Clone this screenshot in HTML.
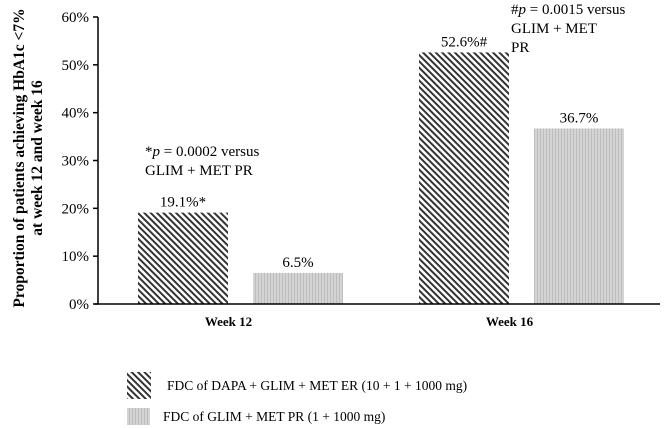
<!DOCTYPE html>
<html><head><meta charset="utf-8"><style>
body{margin:0;background:#fff}
svg{display:block;font-family:"Liberation Serif",serif}
</style></head><body>
<svg width="669" height="428" viewBox="0 0 669 428">
<defs>
<pattern id="diag" patternUnits="userSpaceOnUse" width="4.5" height="4.5" patternTransform="rotate(-45)">
<rect width="4.5" height="4.5" fill="#fff"/><rect width="2" height="4.5" fill="#333"/>
</pattern>
<pattern id="dots" patternUnits="userSpaceOnUse" width="3" height="3">
<rect width="3" height="3" fill="#d4d4d4"/><rect width="1" height="3" fill="#bdbdbd"/>
</pattern>
</defs>
<g id="plot"></g>
<text transform="translate(24,158) rotate(-90)" text-anchor="middle" font-weight="bold" font-size="15.5">Proportion of patients achieving HbA1c &lt;7%</text>
<text transform="translate(42,158) rotate(-90)" text-anchor="middle" font-weight="bold" font-size="15.5">at week 12 and week  16</text>
<text x="145" y="156" font-size="15">*<tspan font-style="italic">p</tspan> = 0.0002 versus</text>
<text x="145" y="175" font-size="15">GLIM + MET PR</text>
<text x="511" y="14" font-size="15">#<tspan font-style="italic">p</tspan>  = 0.0015 versus</text>
<text x="511" y="33" font-size="15">GLIM + MET</text>
<text x="511" y="52" font-size="15">PR</text>
<g>
<rect x="127" y="372" width="24" height="27" fill="url(#diag)"/>
<text x="167" y="390" font-size="13.5">FDC of DAPA + GLIM + MET ER (10 + 1 + 1000 mg)</text>
<rect x="127" y="408" width="23" height="17" fill="url(#dots)"/>
<text x="163" y="421" font-size="13.5">FDC of GLIM + MET PR (1 + 1000 mg)</text>
</g>
</svg>
<script>
const categories=["Week 12","Week 16"];
const seriesDapa=[19.1,52.6];
const seriesGlim=[6.5,36.7];
const dapaLabels=["19.1%*","52.6%#"];
const glimLabels=["6.5%","36.7%"];
const yTicks=[0,10,20,30,40,50,60];
const ns="http://www.w3.org/2000/svg";
const g=document.getElementById("plot");
const x0=98,x1=660,yTop=17,yBot=304;
const y=v=>yBot-(v/60)*(yBot-yTop);
const cw=(x1-x0)/categories.length;
const cx=i=>x0+2+cw*(i+0.5);
function mk(t,a){const e=document.createElementNS(ns,t);for(const k in a)e.setAttribute(k,a[k]);g.appendChild(e);return e;}
yTicks.forEach(t=>{
 const l=mk("line",{x1:x0-5,x2:x0,y1:y(t),y2:y(t),stroke:"#000","stroke-width":1.5});
 
 
 const tx=mk("text",{x:x0-9,y:y(t)+5,"text-anchor":"end","font-size":15});
 tx.textContent=t+"%";
 
 
});
const bw=90,gap=25;
categories.forEach((c,i)=>{
 const c0=cx(i);
 const b1=mk("rect",{x:c0-gap/2-bw,y:y(seriesDapa[i]),width:bw,height:yBot-y(seriesDapa[i]),fill:"url(#diag)"});
 
 
 const b2=mk("rect",{x:c0+gap/2,y:y(seriesGlim[i]),width:bw,height:yBot-y(seriesGlim[i]),fill:"url(#dots)"});
 
 
 const t1=mk("text",{x:c0-gap/2-bw/2,y:y(seriesDapa[i])-6,"text-anchor":"middle","font-size":15});
 t1.textContent=dapaLabels[i];
 
 
 const t2=mk("text",{x:c0+gap/2+bw/2,y:y(seriesGlim[i])-6,"text-anchor":"middle","font-size":15});
 t2.textContent=glimLabels[i];
 
 
 const ct=mk("text",{x:c0-12,y:yBot+22,"text-anchor":"middle","font-size":13,"font-weight":"bold"});
 ct.textContent=c;
 
 
});
const ya=mk("line",{x1:x0,x2:x0,y1:yTop,y2:yBot,stroke:"#000","stroke-width":1.5});


const xa=mk("line",{x1:x0-3,x2:x1,y1:yBot,y2:yBot,stroke:"#000","stroke-width":1.5});


</script>
</body></html>
